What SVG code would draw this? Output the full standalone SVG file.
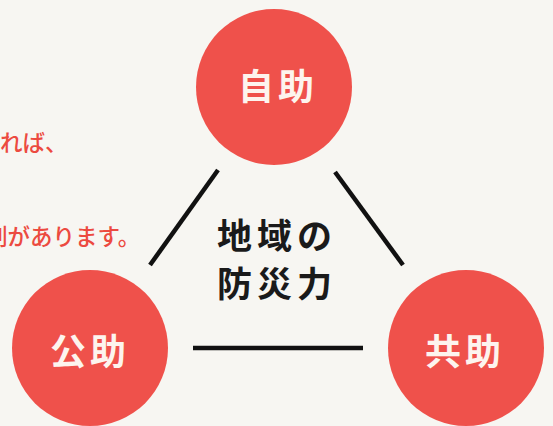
<svg xmlns="http://www.w3.org/2000/svg" width="553" height="426" viewBox="0 0 553 426">
<style>
.bg{fill:#f7f6f2}
.c{fill:#ef514b}
.ct{fill:#fdf4ee;font-family:"Noto Sans CJK JP","Noto Sans",sans-serif;font-weight:700;font-size:36px;text-anchor:middle;letter-spacing:4px}
.mt{fill:#1a1a1a;font-family:"Noto Sans CJK JP","Noto Sans",sans-serif;font-weight:700;font-size:35px;text-anchor:middle;letter-spacing:5px}
.rt{fill:#ec4a40;font-family:"Noto Sans CJK JP","Noto Sans",sans-serif;font-weight:500;font-size:22.5px}
.ln{stroke:#111;stroke-width:4.5;stroke-linecap:butt;fill:none}
</style>
<rect class="bg" x="0" y="0" width="553" height="426"/>
<text class="rt" x="0" y="151">れば、</text>
<text class="rt" x="-15" y="245">割があります。</text>
<g id="connectors">
<line class="ln" x1="218" y1="170" x2="150" y2="265"/>
<line class="ln" x1="335" y1="172" x2="403" y2="265"/>
<line class="ln" x1="193" y1="348" x2="363" y2="348"/>
</g>
<g id="jijo">
<circle class="c" cx="274" cy="87" r="78"/>
<text class="ct" x="278" y="100">自助</text>
</g>
<g id="kojo">
<circle class="c" cx="90" cy="348" r="78"/>
<text class="ct" x="90" y="365">公助</text>
</g>
<g id="kyojo">
<circle class="c" cx="466" cy="348" r="78"/>
<text class="ct" x="465" y="365">共助</text>
</g>
<g id="center">
<text class="mt" x="277" y="249">地域の</text>
<text class="mt" x="277" y="297">防災力</text>
</g>
</svg>
